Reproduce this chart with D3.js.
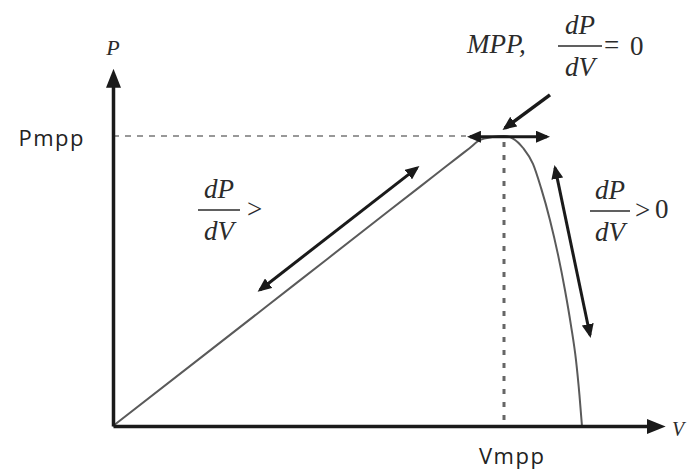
<!DOCTYPE html>
<html>
<head>
<meta charset="UTF-8" />
<script src="https://d3js.org/d3.v7.min.js"></script>
<title>P-V curve, MPP</title>
<style>
  body { margin: 0; background: #fff; }
  svg { display: block; }
  .math { font-family: "Liberation Serif", "DejaVu Serif", serif; font-style: italic; font-size: 27px; fill: #2b2b2b; }
  .upright { font-style: normal; }
  .lbl text { font-family: "Open Sans", sans-serif; font-size: 22px; fill: #222; letter-spacing: 1.5px; }
</style>
</head>
<body>
<div id="chart"></div>
<script>
// P-V curve (V in volts, P in watts)
const curveV = [0, 4, 8, 12, 14, 15, 15.5, 15.96, 16.48, 17, 17.39, 17.83, 18.26, 18.61, 19.0, 19.35, 19.65, 19.91, 20.13, 20.28, 20.39];
const curveP = [0, 20.0, 40.05, 60.1, 70.1, 75.1, 77.6, 79.9, 80.7, 81, 80.3, 77.65, 73.2, 66.5, 57.5, 47.8, 38.0, 28.2, 18.4, 8.7, 0];
const Vmpp = 17;
const Pmpp = 81;
const xTickLabel = "Vmpp";
const yTickLabel = "Pmpp";
// double headed arrows: start and end points (V, P)
const arrowStart = [[6.39, 38.0], [15.52, 80.8], [19.22, 72.1]];
const arrowEnd = [[13.22, 72.1], [18.87, 80.8], [20.74, 25.4]];
// single arrow pointing at the MPP
const pointerStart = [19.0, 92.5];
const pointerEnd = [17.04, 83.2];

const w = 688, h = 473;
const svg = d3.select("#chart").append("svg").attr("width", w).attr("height", h);

const x = d3.scaleLinear().domain([0, 23.4]).range([113, 651.2]);
const y = d3.scaleLinear().domain([0, 96]).range([426, 82.3]);

const defs = svg.append("defs");
function marker(id, len, half, refX, color) {
  defs.append("marker")
    .attr("id", id)
    .attr("markerUnits", "userSpaceOnUse")
    .attr("viewBox", `0 ${-half} ${len} ${2 * half}`)
    .attr("markerWidth", len).attr("markerHeight", 2 * half)
    .attr("refX", refX).attr("refY", 0)
    .attr("orient", "auto-start-reverse")
    .append("path")
    .attr("d", `M0,${-half}L${len},0L0,${half}Z`)
    .attr("fill", color);
}
marker("axhead", 19, 7.5, 5, "#1a1a1a");
marker("head", 14, 6, 11, "#1a1a1a");

// guide lines to the MPP
svg.append("line")
  .attr("x1", x(0)).attr("x2", x(arrowStart[1][0]) - 4)
  .attr("y1", y(Pmpp)).attr("y2", y(Pmpp))
  .attr("stroke", "#777").attr("stroke-width", 1.5).attr("stroke-dasharray", "6,6");
svg.append("line")
  .attr("x1", x(Vmpp)).attr("x2", x(Vmpp))
  .attr("y1", y(Pmpp) + 6).attr("y2", y(0) - 2)
  .attr("stroke", "#666").attr("stroke-width", 3).attr("stroke-dasharray", "5,8");

// the P-V curve
const line = d3.line().x(d => x(d[0])).y(d => y(d[1])).curve(d3.curveMonotoneX);
svg.append("path")
  .datum(d3.zip(curveV, curveP))
  .attr("d", line)
  .attr("fill", "none")
  .attr("stroke", "#5a5a5a")
  .attr("stroke-width", 2);

// axes: only the arrowed domain lines and one tick label each
const xAxis = svg.append("g").attr("class", "lbl")
  .attr("transform", `translate(0,${y(0)})`)
  .call(d3.axisBottom(x).tickValues([Vmpp]).tickFormat(() => xTickLabel).tickSize(0).tickSizeOuter(0).tickPadding(22));
const yAxis = svg.append("g").attr("class", "lbl")
  .attr("transform", `translate(${x(0)},0)`)
  .call(d3.axisLeft(y).tickValues([Pmpp]).tickFormat(() => yTickLabel).tickSize(0).tickSizeOuter(0).tickPadding(28));
[xAxis, yAxis].forEach(g => {
  g.select(".domain").attr("stroke", "#1a1a1a").attr("stroke-width", 3.5).attr("marker-end", "url(#axhead)");
  g.selectAll(".tick text").attr("font-family", null).attr("font-size", null);
});
xAxis.select(".tick text").attr("dx", "0.35em");
yAxis.select(".tick text").attr("dy", "0.45em");

// double headed arrows
svg.append("g").selectAll("line")
  .data(d3.zip(arrowStart, arrowEnd))
  .join("line")
  .attr("x1", d => x(d[0][0])).attr("y1", d => y(d[0][1]))
  .attr("x2", d => x(d[1][0])).attr("y2", d => y(d[1][1]))
  .attr("stroke", "#1a1a1a").attr("stroke-width", 3)
  .attr("marker-start", "url(#head)").attr("marker-end", "url(#head)");

svg.append("line")
  .attr("x1", x(pointerStart[0])).attr("y1", y(pointerStart[1]))
  .attr("x2", x(pointerEnd[0])).attr("y2", y(pointerEnd[1]))
  .attr("stroke", "#1a1a1a").attr("stroke-width", 3.5)
  .attr("marker-end", "url(#head)");

// axis names
svg.append("text").attr("class", "math").attr("x", x(0)).attr("y", 55)
  .attr("text-anchor", "middle").attr("fill", "#888").style("font-size", "22px").text("P");
svg.append("text").attr("class", "math").attr("x", 672).attr("y", 436)
  .attr("fill", "#888").style("font-size", "20px").text("V");

// dP/dV fractions
function frac(cx, by, half, extras) {
  const g = svg.append("g").attr("class", "math").attr("transform", `translate(${cx},${by})`);
  g.append("text").attr("text-anchor", "middle").attr("y", -12).text("dP");
  g.append("line").attr("x1", -half).attr("x2", half).attr("stroke", "#2b2b2b").attr("stroke-width", 1.6);
  g.append("text").attr("text-anchor", "middle").attr("y", 30).text("dV");
  extras.forEach(e => g.append("text").attr("class", "math upright").attr("x", e[0]).attr("y", e[1]).text(e[2]));
}
svg.append("text").attr("class", "math").attr("x", 467).attr("y", 53).text("MPP,");
frac(580, 46, 22, [[24, 8, "="], [50, 9, "0"]]);
frac(219, 210, 21, [[28, 8, ">"]]);
frac(610, 211, 20, [[25, 8, ">"], [45, 7, "0"]]);
</script>
</body>
</html>
